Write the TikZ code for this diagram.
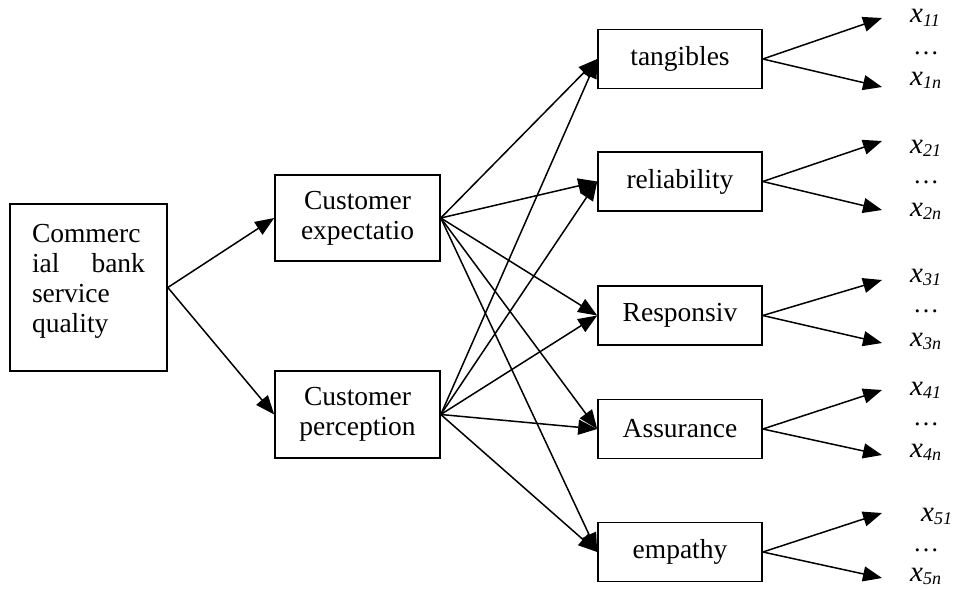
\documentclass[tikz,border=0pt]{standalone}
\usepackage{fontspec}
\setmainfont{Liberation Serif}
\usetikzlibrary{arrows.meta}
\newcommand{\xlab}[1]{{\itshape\fontsize{29}{30}\selectfont x\raisebox{-3pt}{\fontsize{18}{18}\selectfont #1}}}
\begin{document}
\begin{tikzpicture}[x=1pt,y=-1pt,
  box/.style={draw, line width=1.6pt, align=center, inner sep=0pt,
    font=\fontsize{27.5}{30}\selectfont},
  rbox/.style={box, minimum width=164pt, minimum height=59pt},
  conn/.style={line width=1.5pt, -{Triangle[length=19pt,width=15pt]}},
  lab/.style={anchor=base west, inner sep=0pt},
  dots/.style={anchor=base west, inner sep=0pt, font=\fontsize{26}{30}\selectfont},
]
\useasboundingbox (0,0) rectangle (953,589);

% boxes
\node[box, minimum width=157pt, minimum height=167pt, text width=113pt, align=left]
  (cb) at (88.5,287.5) {Commerc\\ial\hfill bank\\service\\quality\rule[-19pt]{0pt}{19pt}};
\node[box, minimum width=165pt, minimum height=86pt] (exp) at (357.5,218) {Customer\\expectatio};
\node[box, minimum width=165pt, minimum height=87pt] (per) at (357.5,414.5) {Customer\\perception};

\node[rbox] (tan) at (680,59) {tangibles};
\node[rbox] (rel) at (680,181.5) {reliability};
\node[rbox] (res) at (680,315.5) {Responsiv};
\node[rbox] (ass) at (680,429) {Assurance};
\node[rbox] (emp) at (680,552) {empathy};

% first level
\draw[conn] (cb.east) -- (exp.west);
\draw[conn] (cb.east) -- (per.west);

% second level
\foreach \t in {tan,rel,res,ass,emp}{
  \draw[conn] (exp.east) -- (\t.west);
  \draw[conn] (per.east) -- (\t.west);
}

% indicator ends
\coordinate (a1) at (882,18);  \coordinate (b1) at (882,87);
\coordinate (a2) at (882,141); \coordinate (b2) at (882,210);
\coordinate (a3) at (882,280); \coordinate (b3) at (882,343);
\coordinate (a4) at (882,390); \coordinate (b4) at (882,455);
\coordinate (a5) at (882,513); \coordinate (b5) at (882,578);

\draw[conn] (tan.east) -- (a1); \draw[conn] (tan.east) -- (b1);
\draw[conn] (rel.east) -- (a2); \draw[conn] (rel.east) -- (b2);
\draw[conn] (res.east) -- (a3); \draw[conn] (res.east) -- (b3);
\draw[conn] (ass.east) -- (a4); \draw[conn] (ass.east) -- (b4);
\draw[conn] (emp.east) -- (a5); \draw[conn] (emp.east) -- (b5);

% labels
\node[lab] (x11) at (910,23) {\xlab{11}};
\node[dots] (d1) at (913,54) {…};
\node[lab] (x1n) at (910,85) {\xlab{1n}};

\node[lab] (x21) at (910,153) {\xlab{21}};
\node[dots] (d2) at (913,183) {…};
\node[lab] (x2n) at (910,216) {\xlab{2n}};

\node[lab] (x31) at (910,282) {\xlab{31}};
\node[dots] (d3) at (913,312) {…};
\node[lab] (x3n) at (910,346) {\xlab{3n}};

\node[lab] (x41) at (910,395) {\xlab{41}};
\node[dots] (d4) at (913,425) {…};
\node[lab] (x4n) at (910,457) {\xlab{4n}};

\node[lab] (x51) at (921,521) {\xlab{51}};
\node[dots] (d5) at (913,551) {…};
\node[lab] (x5n) at (910,581) {\xlab{5n}};
\end{tikzpicture}
\end{document}
